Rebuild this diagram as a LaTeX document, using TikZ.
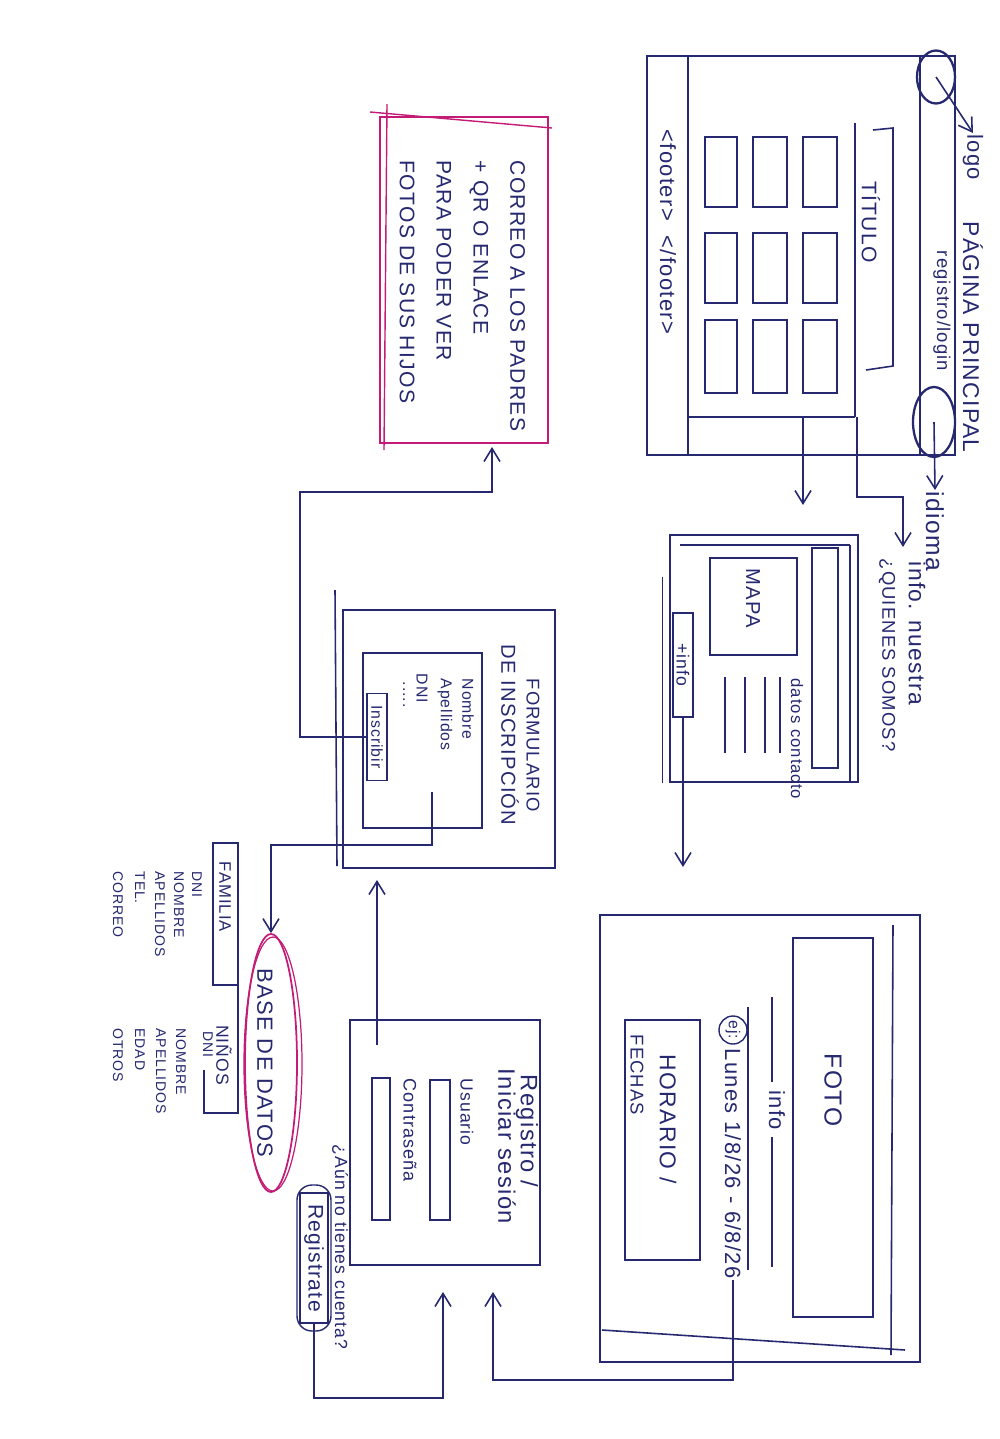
\documentclass[tikz,border=0pt]{standalone}
\usepackage{fontspec}
\setmainfont{Liberation Sans}
\newfontfamily\hw[LetterSpace=6]{Liberation Sans}
\usetikzlibrary{arrows.meta,shapes.geometric,fit}
\definecolor{ink}{RGB}{38,40,112}
\definecolor{pinkink}{RGB}{196,28,118}
\begin{document}
\begin{tikzpicture}[x=0.2mm,y=-0.2mm,color=ink,line width=0.9pt,
  box/.style={draw=ink,line width=0.9pt,inner sep=0pt,fit={#1}},
  t/.style={rotate=-90,text=ink,inner sep=0.5pt,font=\hw\fontsize{#1}{#1}\selectfont},
  arr/.style={draw=ink,line width=0.9pt,-{Straight Barb[length=2.6mm,width=3.2mm]}},
  oval/.style={ellipse,draw=ink,line width=1.3pt,inner sep=0pt}]
\useasboundingbox (0,0) rectangle (1000,1439);
\fill[white] (0,0) rectangle (1000,1439);

% ================= PAGINA PRINCIPAL =================
\node[box={(647,56)(955,455)}] (main) {};
\draw (688,56) -- (688,455);
\draw (920,56) -- (920,455);
\draw (688,417) -- (855,417);
\draw (855,123) -- (855,417);
\draw (873,130) -- (893,128) -- (893,366) -- (866,370);
\node[t=12] (titulo) at (871,222) {TÍTULO};
\foreach \xa/\xb in {705/737,753/787,803/837}
  \foreach \ya/\yb in {137/207,233/303,320/393}
    \draw (\xa,\ya) rectangle (\xb,\yb);
\node[t=12.5] (footer) at (668,232) {<footer>~~</footer>};
\node[oval,minimum width=7.6mm,minimum height=10.6mm] (logoc) at (936,77) {};
\node[oval,minimum width=8.4mm,minimum height=14mm] (idc) at (934,422) {};
\node[t=12.5,anchor=west] (logot) at (973,133) {logo};
\node[t=13,anchor=west] (pagtitle) at (973,220) {PÁGINA PRINCIPAL};
\node[t=10.5] (reglogin) at (942,311) {registro/login};
\node[t=14,anchor=west] (idt) at (935,490) {idioma};
\draw[arr] (logoc.center) -- (logot.west);
\draw[arr] (idc.center) -- (idt.west);

\coordinate (m1) at (803,417);
\coordinate (m2) at (857,417);
\draw[arr] (m1) -- (803,505);
\node[t=13,anchor=west] (nuestra) at (917,560) {info. nuestra};
\node[t=10.5,anchor=west] (quienes) at (887,557) {¿QUIENES SOMOS?};
\draw[arr] (m2) -- (857,497) -- (903,497) -- (903,547);

% ================= INFO PAGE =================
\node[box={(670,535)(858,782)}] (infop) {};
\draw (680,545) -- (850,545);
\draw (850,545) -- (850,782);
\draw[line width=0.5pt] (662,577) -- (662,783);
\draw (812,548) rectangle (838,768);
\node[box={(710,558)(797,655)}] (mapa) {};
\node[t=11.5] at (753,598) {MAPA};
\foreach \x in {725,745,765,780} \draw (\x,677) -- (\x,753);
\node[t=9.5,anchor=west] (datos) at (797,677) {datos contacto};
\node[box={(673,613)(693,717)}] (masinfo) {};
\node[t=10] at (683,665) {+info};
\draw[arr] (masinfo.south) -- (683,867);

% ================= ACTIVITY PAGE =================
\node[box={(600,915)(920,1362)}] (act) {};
\draw (893,925) -- (891,1355);
\draw (602,1330) -- (905,1350);
\node[box={(793,938)(873,1317)}] (foto) {};
\node[t=14] at (833,1090) {FOTO};
\draw (772,997) -- (772,1082);
\draw (772,1137) -- (772,1267);
\node[t=12.5] (infot) at (777,1110) {info};
\draw (748,1007) -- (748,1270);
\node[circle,draw=ink,line width=0.8pt,minimum size=5.6mm,inner sep=0pt,rotate=-90,text=ink,font=\hw\fontsize{9}{9}\selectfont] (ej) at (733,1030) {ej:};
\node[t=12.5,anchor=west] (date) at (733,1047) {Lunes 1/8/26 - 6/8/26};
\node[box={(625,1020)(700,1260)}] (hor) {};
\node[t=13,anchor=west] at (668,1053) {HORARIO /};
\node[t=10.5,anchor=west] at (637,1033) {FECHAS};

% ================= REGISTRO / LOGIN =================
\node[box={(350,1020)(540,1265)}] (reg) {};
\node[t=13.5,anchor=west] at (527,1073) {Registro /};
\node[t=13.5,anchor=west] at (507,1067) {Iniciar sesión};
\node[t=10,anchor=west] at (467,1077) {Usuario};
\draw (430,1080) rectangle (450,1220);
\node[t=10.3,anchor=west] at (410,1077) {Contraseña};
\draw (372,1078) rectangle (390,1220);
\node[t=10,anchor=west] (aun) at (340,1143) {¿Aún no tienes cuenta?};
\node[t=12,draw=ink,line width=0.9pt,minimum width=26mm,minimum height=5.6mm] (regbtn) at (314,1258) {Registrate};
\draw[rounded corners=3mm,line width=0.8pt] (297,1185) rectangle (331,1331);

% connectors into registro
\coordinate (c1) at (733,1380);
\coordinate (c2) at (493,1380);
\draw[arr] (date.east) -- (c1) -- (c2) -- (493,1292);
\coordinate (r1) at (314,1398);
\coordinate (r2) at (443,1398);
\draw[arr] (regbtn.east) -- (r1) -- (r2) -- (443,1292);
\draw[arr] (377,1045) -- (377,880);

% ================= FORMULARIO =================
\node[box={(343,610)(555,868)}] (form) {};
\draw (335,590) -- (337,866);
\node[t=10.5,anchor=west] at (533,677) {FORMULARIO};
\node[t=11.5,anchor=west] at (510,643) {DE INSCRIPCIÓN};
\node[box={(363,653)(482,828)}] (forminner) {};
\node[t=9,anchor=west] at (468,677) {Nombre};
\node[t=9,anchor=west] at (445,677) {Apellidos};
\node[t=9,anchor=west] at (422,672) {DNI};
\node[t=9,anchor=west] at (404,680) {.....};
\node[t=9,draw=ink,line width=0.9pt,minimum width=17.4mm,minimum height=4mm] (insc) at (377,737) {Inscribir};

% ================= PINK BOX =================
\node[draw=pinkink,line width=0.9pt,inner sep=0pt,fit={(380,117)(548,443)}] (pink) {};
\draw[pinkink,line width=0.8pt] (370,112) -- (552,128);
\draw[pinkink,line width=0.8pt] (387,104) -- (384,450);
\node[rotate=-90,anchor=north west,align=left,text=ink,inner sep=0pt,font=\hw\fontsize{12}{21}\selectfont] (correo) at (526,160) {CORREO A LOS PADRES\\+ QR O ENLACE\\PARA PODER VER\\FOTOS DE SUS HIJOS};
\draw[arr] (insc.south) -- (300,737) -- (300,492) -- (492,492) -- (492,447);

% ================= BASE DE DATOS =================
\node[ellipse,draw=pinkink,line width=1pt,inner sep=0pt,minimum width=10.4mm,minimum height=51.6mm] (db) at (271,1063) {};
\draw[pinkink,line width=0.7pt] (273,1064) ellipse [x radius=29,y radius=127];
\node[t=12.5] at (265,1063) {BASE DE DATOS};
\draw[arr] (432,792) -- (432,845) -| (db.north);

\node[box={(213,843)(238,985)}] (fam) {};
\draw (238,985) -- (238,1113) -- (204,1113) -- (204,1070);
\node[t=9.5] at (225,897) {FAMILIA};
\node[t=10] at (224,1055) {NIÑOS};
\node[t=8,anchor=west] at (197,870) {DNI};
\node[t=8,anchor=west] at (179,870) {NOMBRE};
\node[t=8,anchor=west] at (160,870) {APELLIDOS};
\node[t=8,anchor=west] at (140,870) {TEL.};
\node[t=8,anchor=west] at (118,870) {CORREO};
\node[t=8,anchor=west] at (208,1030) {DNI};
\node[t=8,anchor=west] at (181,1027) {NOMBRE};
\node[t=8,anchor=west] at (161,1027) {APELLIDOS};
\node[t=8,anchor=west] at (140,1027) {EDAD};
\node[t=8,anchor=west] at (118,1027) {OTROS};
\end{tikzpicture}
\end{document}
